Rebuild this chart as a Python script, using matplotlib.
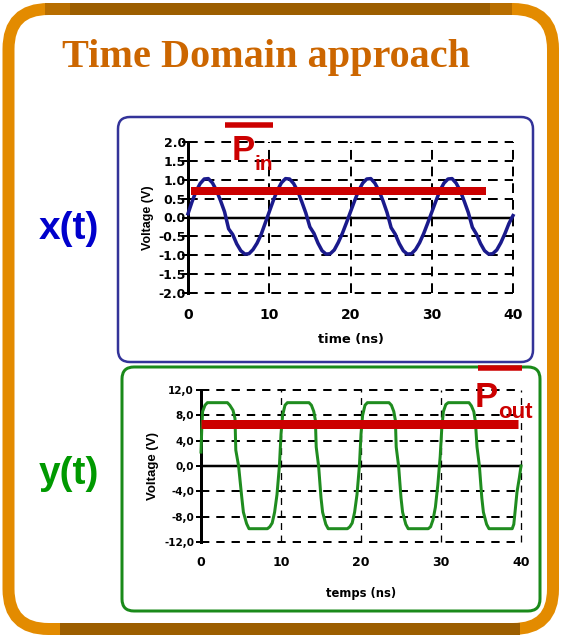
import matplotlib
matplotlib.use("Agg")
import matplotlib.pyplot as plt
from matplotlib.patches import FancyBboxPatch
import numpy as np

plt.rcParams['lines.scale_dashes'] = False

W, H = 563, 635
PX = 0.72  # points per pixel at 100 dpi

# ---- x(t): input voltage (V), sampled every 0.5 ns ----
t_in = np.arange(0, 40.01, 0.5)
v_in = [0.10, 0.42, 0.70, 0.90, 1.02, 1.03, 0.92, 0.72, 0.45, 0.15,
        -0.30, -0.45, -0.70, -0.88, -0.97, -0.96, -0.85, -0.68, -0.45, -0.15,
        0.15, 0.45, 0.72, 0.92, 1.03, 1.02, 0.90, 0.70, 0.42, 0.12,
        -0.25, -0.42, -0.68, -0.88, -0.97, -0.96, -0.86, -0.66, -0.42, -0.14,
        0.15, 0.44, 0.71, 0.91, 1.02, 1.03, 0.91, 0.71, 0.44, 0.13,
        -0.27, -0.44, -0.69, -0.88, -0.97, -0.96, -0.85, -0.67, -0.43, -0.15,
        0.14, 0.43, 0.71, 0.91, 1.02, 1.03, 0.91, 0.71, 0.43, 0.13,
        -0.26, -0.44, -0.69, -0.88, -0.97, -0.96, -0.86, -0.67, -0.43, -0.16,
        0.05]
pin_level = 0.7
pin_span = (0.4, 36.7)

# ---- y(t): amplified / clipped output voltage (V) ----
t_out = [0.0, 0.1, 0.2, 0.5, 0.8, 3.3, 3.6, 4.0, 4.25, 4.35, 4.7, 5.1, 5.3, 5.7, 6.0,
         8.3, 8.6, 8.9, 9.2, 9.5, 9.8, 10.0, 10.2, 10.5, 10.8,
         13.5, 13.8, 14.1, 14.3, 14.4, 14.7, 15.0, 15.2, 15.6, 15.9,
         18.3, 18.6, 18.9, 19.2, 19.5, 19.8, 20.0, 20.2, 20.5, 20.8,
         23.5, 23.8, 24.1, 24.3, 24.4, 24.7, 25.0, 25.2, 25.6, 25.9,
         28.4, 28.7, 29.0, 29.3, 29.6, 29.9, 30.1, 30.3, 30.6, 30.9,
         33.5, 33.8, 34.1, 34.3, 34.5, 34.8, 35.1, 35.3, 35.7, 36.0,
         38.9, 39.1, 39.3, 39.5, 39.8, 40.0]
v_out = [2.2, 6.0, 8.6, 9.6, 10.0, 10.0, 9.6, 8.8, 7.5, 2.5, 0.0, -5.0, -7.3, -9.1, -9.9,
         -9.9, -9.6, -9.0, -7.3, -4.5, 0.0, 5.0, 8.0, 9.6, 10.0,
         10.0, 9.6, 8.6, 7.2, 3.0, 0.0, -5.0, -7.3, -9.2, -9.9,
         -9.9, -9.6, -9.0, -7.3, -4.5, 0.0, 5.0, 8.0, 9.6, 10.0,
         10.0, 9.6, 8.6, 7.2, 3.0, 0.0, -5.0, -7.3, -9.2, -9.9,
         -9.9, -9.6, -8.5, -6.5, -3.0, 1.5, 6.0, 8.6, 9.7, 10.0,
         10.0, 9.5, 8.6, 7.0, 3.0, 0.0, -5.0, -7.3, -9.2, -9.9,
         -9.9, -9.2, -6.7, -4.1, -1.8, 0.0]
pout_level = 6.6
pout_span = (0.0, 39.6)

in_yticks = [-2.0, -1.5, -1.0, -0.5, 0.0, 0.5, 1.0, 1.5, 2.0]
out_yticks = [-12.0, -8.0, -4.0, 0.0, 4.0, 8.0, 12.0]
xticks = [0, 10, 20, 30, 40]

SANS = ['Liberation Sans', 'DejaVu Sans']
WIDE = ['DejaVu Sans']
RED = '#cc0000'


def px_axes(fig, left, top, right, bottom):
    return fig.add_axes([left / W, 1 - bottom / H, (right - left) / W, (bottom - top) / H])


def style_chart(ax, yticks, fmt, ylim, ysize, xsize, ticklen, ypad, xpad,
                grid_lw, dash, vdash, vlw):
    ax.set_facecolor('none')
    ax.set_xlim(0, 40)
    ax.set_ylim(*ylim)
    for s in ['top', 'right', 'bottom']:
        ax.spines[s].set_visible(False)
    ax.spines['left'].set_linewidth(3 * PX)
    ax.set_yticks(yticks)
    ax.set_yticklabels([fmt(v) for v in yticks])
    ax.set_xticks(xticks)
    ax.tick_params(axis='y', direction='inout', length=ticklen, width=2 * PX, pad=ypad,
                   labelsize=ysize)
    ax.tick_params(axis='x', length=0, pad=xpad, labelsize=xsize)
    for lab in ax.get_xticklabels() + ax.get_yticklabels():
        lab.set_family(WIDE)
        lab.set_fontweight('bold')
    for v in yticks:
        if v == 0:
            ax.axhline(0, color='black', lw=2.5 * PX, zorder=2)
        else:
            ax.axhline(v, color='black', lw=grid_lw, dashes=dash, zorder=1, clip_on=False)
    for x in xticks[1:]:
        ax.axvline(x, color='black', lw=vlw, dashes=vdash, zorder=1, clip_on=False)


fig = plt.figure(figsize=(W / 100, H / 100), dpi=100)

# background: outer frame, chart boxes, titles
bg = fig.add_axes([0, 0, 1, 1])
bg.set_xlim(0, W)
bg.set_ylim(H, 0)
bg.axis('off')

bg.add_patch(FancyBboxPatch((8.5, 9), 544.5, 620, boxstyle='round,pad=0,rounding_size=40',
                            fc='white', ec='#e38b00', lw=12 * PX))
bg.plot([70, 490], [9, 9], color='#9c5e00', lw=12 * PX, solid_capstyle='butt')
bg.plot([45, 70], [9, 9], color='#b86e00', lw=12 * PX, solid_capstyle='butt')
bg.plot([490, 512], [9, 9], color='#b86e00', lw=12 * PX, solid_capstyle='butt')
bg.plot([60, 520], [629, 629], color='#9c5e00', lw=12 * PX, solid_capstyle='butt')

bg.add_patch(FancyBboxPatch((118, 117), 415, 245, boxstyle='round,pad=0,rounding_size=12',
                            fc='white', ec='#333399', lw=2.5 * PX))
bg.add_patch(FancyBboxPatch((122, 367), 418, 244, boxstyle='round,pad=0,rounding_size=12',
                            fc='white', ec='#1a8a1a', lw=3 * PX))

bg.text(266, 67, 'Time Domain approach', family=['Liberation Serif', 'DejaVu Serif'],
        fontweight='bold', fontsize=29, color='#cc6600', ha='center', va='baseline')
bg.text(69, 229, 'x(t)', family=SANS, fontweight='bold', fontsize=28, color='#0000cc',
        ha='center', va='center')
bg.text(69, 474, 'y(t)', family=SANS, fontweight='bold', fontsize=28, color='#009900',
        ha='center', va='center')

# input signal
ax1 = px_axes(fig, 188, 142, 513, 293)
style_chart(ax1, in_yticks, lambda v: f'{v:.1f}', (-2, 2), 9, 10, 8, -2.5, 11,
            2 * PX, (7, 5), (7, 5), 2 * PX)
ax1.plot(t_in, v_in, color='#1a1a8c', lw=3.5 * PX, zorder=3, clip_on=False)
ax1.plot(pin_span, [pin_level, pin_level], color=RED, lw=8 * PX, zorder=4,
         solid_capstyle='butt')
ax1.set_xlabel('time (ns)', family=WIDE, fontweight='bold', fontsize=9.4, labelpad=8)
ax1.set_ylabel('Voltage (V)', family=SANS, fontweight='bold', fontsize=9, labelpad=3)

# output signal
ax2 = px_axes(fig, 201, 390, 521, 542)
style_chart(ax2, out_yticks, lambda v: f'{v:.1f}'.replace('.', ','), (-12, 12), 7.5, 9,
            7, 1.5, 10, 2 * PX, (6, 5), (5, 4), 1.3 * PX)
ax2.plot(t_out, v_out, color='#1f8c1f', lw=3 * PX, zorder=3, clip_on=False)
ax2.plot(pout_span, [pout_level, pout_level], color=RED, lw=9 * PX, zorder=4,
         solid_capstyle='butt')
ax2.set_xlabel('temps (ns)', family=WIDE, fontweight='bold', fontsize=8.3, labelpad=13)
ax2.set_ylabel('Voltage (V)', family=SANS, fontweight='bold', fontsize=9.5, labelpad=4)

# power labels on top of everything
top = fig.add_axes([0, 0, 1, 1])
top.set_xlim(0, W)
top.set_ylim(H, 0)
top.axis('off')
top.patch.set_alpha(0)

top.text(232, 160, 'P', family=SANS, fontweight='bold', fontsize=25, color=RED, va='baseline')
top.text(255, 170, 'in', family=SANS, fontweight='bold', fontsize=15, color=RED, va='baseline')
top.plot([225, 273], [125, 125], color=RED, lw=5.5 * PX, solid_capstyle='butt')

top.text(475, 407, 'P', family=SANS, fontweight='bold', fontsize=25, color=RED, va='baseline')
top.text(498, 418, 'out', family=SANS, fontweight='bold', fontsize=16, color=RED, va='baseline')
top.plot([478, 522], [368, 368], color=RED, lw=5.5 * PX, solid_capstyle='butt')

fig.savefig('out.png', dpi=100)
